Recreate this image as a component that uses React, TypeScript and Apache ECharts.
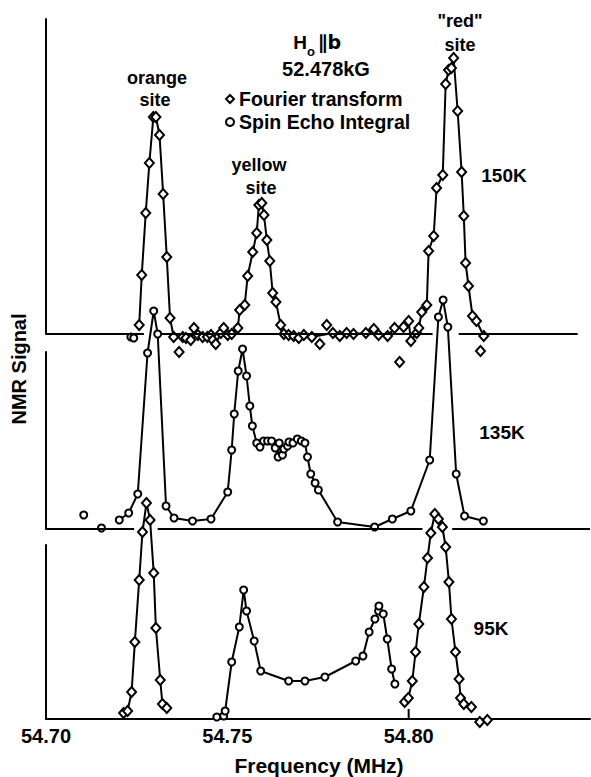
import React, { useEffect, useRef } from "react";
import * as echarts from "echarts";

// ---------- data (frequency in MHz, signal in arbitrary units above each baseline) ----------
const X_MIN = 54.7;
const X_MAX = 54.85;
const X_INTERVAL = 0.05;
const TICK_MARK: [number, number][] = [[54.8, 0], [54.8, 10]];

// 150 K — Fourier transform (connected)
const FT_150K: [number, number][] = [
  [54.7257, 9], [54.7264, 59], [54.7275, 121], [54.7285, 171], [54.7296, 217], [54.7303, 217],
  [54.7313, 199], [54.7323, 140], [54.7333, 77], [54.7342, 16], [54.7352, -3], [54.7377, -3],
  [54.7386, -4], [54.7399, -6], [54.7408, 6], [54.7419, -1], [54.7432, -3], [54.7445, -3],
  [54.7455, -1], [54.746, -6], [54.7468, -10], [54.7482, 1], [54.749, 6], [54.7501, -1],
  [54.7512, 0], [54.7529, 6], [54.7534, 24], [54.7548, 29], [54.7556, 58], [54.757, 82],
  [54.7581, 101], [54.7587, 129], [54.7595, 131], [54.7601, 119], [54.7609, 94], [54.7617, 73],
  [54.7625, 41], [54.7634, 32], [54.7647, 9], [54.7656, 0], [54.7669, -1], [54.7683, -2],
  [54.7697, -4], [54.7711, -1], [54.7733, -3], [54.7791, 1], [54.781, -2], [54.7829, 1],
  [54.7848, 0], [54.7882, 1], [54.7904, 5], [54.7917, -1], [54.7942, -2], [54.7961, 6],
  [54.7986, 7], [54.8, 13], [54.8006, -7], [54.8022, 1], [54.8028, 6], [54.8036, 22],
  [54.805, 29], [54.8055, 83], [54.8069, 98], [54.8077, 146], [54.8094, 159], [54.8102, 250],
  [54.811, 264], [54.8118, 266], [54.8124, 276], [54.8135, 223], [54.8146, 162], [54.8152, 118],
  [54.8157, 71], [54.8165, 48], [54.8176, 18], [54.8187, 13], [54.8207, -2],
];
const FT_150K_STRAY: [number, number][] = [
  [54.7367, -18], [54.7755, -10], [54.7774, 9], [54.7975, -28], [54.8198, -17],
];
const SE_150K_STRAY: [number, number][] = [
  [54.7234, -3], [54.7242, -4],
];

// 135 K — Spin echo integral
const SE_135K: [number, number][] = [
  [54.7202, 9], [54.7228, 16], [54.7253, 35], [54.728, 176], [54.7297, 218], [54.7308, 195],
  [54.7331, 23], [54.7353, 11], [54.7404, 8], [54.7455, 10], [54.7501, 37], [54.7512, 79],
  [54.7519, 115], [54.753, 158], [54.7542, 180], [54.7553, 153], [54.7562, 123], [54.7569, 103],
  [54.7581, 86], [54.759, 82], [54.76, 88], [54.7611, 88], [54.7622, 88], [54.7632, 81],
  [54.764, 72], [54.7643, 86], [54.7652, 74], [54.7656, 80], [54.7666, 83], [54.767, 87],
  [54.7681, 86], [54.7693, 90], [54.7704, 88], [54.7714, 86], [54.7721, 72], [54.773, 55],
  [54.7742, 46], [54.7751, 39], [54.7804, 7], [54.7906, 2], [54.7955, 10], [54.8006, 18],
  [54.8058, 69], [54.8082, 212], [54.8095, 229], [54.8108, 202], [54.8131, 55], [54.8154, 13],
  [54.8206, 8],
];
const SE_135K_STRAY: [number, number][] = [
  [54.7104, 14], [54.7153, 1],
];

// 95 K
const FT_95K_ORANGE: [number, number][] = [
  [54.7214, 6], [54.7225, 8], [54.7236, 27], [54.7245, 77], [54.7257, 139], [54.7266, 187],
  [54.7277, 216], [54.7287, 199], [54.7297, 146], [54.7303, 91], [54.7315, 39], [54.7321, 15],
  [54.7333, 11],
];
const SE_95K_YELLOW: [number, number][] = [
  [54.7471, 2], [54.749, 3], [54.7494, 8], [54.7512, 57], [54.7533, 92], [54.7545, 129],
  [54.7553, 108], [54.7574, 78], [54.7592, 48], [54.7669, 38], [54.7714, 38], [54.7769, 42],
  [54.7854, 58], [54.7874, 63], [54.7891, 87], [54.7907, 100], [54.7917, 108], [54.7918, 113],
  [54.793, 105], [54.7941, 80], [54.7953, 50], [54.7962, 35],
];
const FT_95K_RED: [number, number][] = [
  [54.7989, 17], [54.7999, 21], [54.801, 38], [54.8019, 67], [54.8028, 95], [54.8042, 132],
  [54.8052, 161], [54.8061, 186], [54.8072, 205], [54.8082, 200], [54.8093, 192], [54.8102, 172],
  [54.8111, 137], [54.8118, 100], [54.8129, 67], [54.8139, 40], [54.8143, 21], [54.8152, 15],
  [54.8173, 12],
];
const FT_95K_STRAY: [number, number][] = [
  [54.8196, -3], [54.8217, -1],
];

// baseline segments (drawn with gaps where the lower trace crosses)
const BASE_150K: [number, number][] = [[54.7, 54.727], [54.7317, 54.8066], [54.8138, 54.8466]];
const BASE_135K: [number, number][] = [[54.7, 54.7243], [54.7308, 54.8038], [54.812, 54.85]];

const FT_NAME = "Fourier transform";
const SE_NAME = "Spin Echo Integral";

// ---------- layout ----------
const FONT = '"Liberation Sans", Arial, sans-serif';
const GRIDS = [
  { top: 19, height: 315 },
  { top: 352, height: 177 },
  { top: 545, height: 174 },
];

const itemStyle = { color: "#fff", borderColor: "#000", borderWidth: 2, opacity: 1 };

function mk(
  type: "line" | "scatter",
  name: string,
  data: [number, number][],
  gi: number,
  symbol: "diamond" | "circle",
  extra: any = {}
) {
  return {
    type,
    name,
    data,
    xAxisIndex: gi,
    yAxisIndex: gi,
    symbol,
    symbolSize: symbol === "diamond" ? [9, 10] : 7,
    showSymbol: true,
    showAllSymbol: true,
    clip: false,
    silent: true,
    lineStyle: { color: "#000", width: 2 },
    itemStyle,
    emphasis: { disabled: true },
    z: 3,
    ...extra,
  };
}

function baseLine(segs: [number, number][]) {
  return {
    silent: true,
    symbol: ["none", "none"],
    label: { show: false },
    lineStyle: { color: "#000", width: 2, type: "solid" },
    emphasis: { disabled: true },
    data: segs.map(([a, b]) => [{ coord: [a, 0] }, { coord: [b, 0] }]),
  };
}

function txt(x: number, y: number, text: string, size = 18, extra: any = {}) {
  return {
    type: "text",
    x,
    y,
    silent: true,
    style: {
      text,
      fontFamily: FONT,
      fontWeight: "bold",
      fontSize: size,
      fill: "#000",
      align: "center",
      verticalAlign: "middle",
      ...extra,
    },
  };
}

export default function App() {
  const ref = useRef<HTMLDivElement>(null);

  useEffect(() => {
    if (!ref.current) return;
    const chart = echarts.init(ref.current, undefined, { renderer: "svg" });

    const option: any = {
      animation: false,
      backgroundColor: "#fff",
      grid: GRIDS.map((g) => ({ left: 46, right: 1, top: g.top, height: g.height })),
      xAxis: GRIDS.map((_, i) => ({
        type: "value",
        gridIndex: i,
        min: X_MIN,
        max: X_MAX,
        interval: X_INTERVAL,
        show: i === 2,
        axisLine: { show: i === 2, onZero: false, lineStyle: { color: "#000", width: 2 } },
        axisTick: { show: false },
        splitLine: { show: false },
        axisLabel: {
          show: i === 2,
          showMaxLabel: false,
          formatter: (v: number) => v.toFixed(2),
          fontFamily: FONT,
          fontWeight: "bold",
          fontSize: 20,
          color: "#000",
          margin: 7,
        },
      })),
      yAxis: GRIDS.map((g, i) => ({
        type: "value",
        gridIndex: i,
        min: 0,
        max: g.height,
        axisLine: { show: true, onZero: false, lineStyle: { color: "#000", width: 2 } },
        axisTick: { show: false },
        axisLabel: { show: false },
        splitLine: { show: false },
      })),
      legend: {
        left: 220,
        top: 84,
        orient: "vertical",
        itemWidth: 8,
        itemHeight: 8,
        itemGap: 3,
        selectedMode: false,
        itemStyle,
        textStyle: { fontFamily: FONT, fontWeight: "bold", fontSize: 19.5, color: "#000", lineHeight: 19 },
        data: [
          { name: FT_NAME, icon: "diamond", itemStyle },
          { name: SE_NAME, icon: "circle", itemStyle },
        ],
      },
      series: [
        mk("line", FT_NAME, FT_150K, 0, "diamond", { markLine: baseLine(BASE_150K) }),
        mk("scatter", FT_NAME, FT_150K_STRAY, 0, "diamond"),
        mk("scatter", SE_NAME, SE_150K_STRAY, 0, "circle"),
        mk("line", SE_NAME, SE_135K, 1, "circle", { markLine: baseLine(BASE_135K) }),
        mk("scatter", SE_NAME, SE_135K_STRAY, 1, "circle"),
        {
          type: "line",
          name: "tick",
          data: TICK_MARK,
          xAxisIndex: 2,
          yAxisIndex: 2,
          symbol: "none",
          silent: true,
          clip: false,
          lineStyle: { color: "#000", width: 2 },
          z: 2,
        },
        mk("line", FT_NAME, FT_95K_ORANGE, 2, "diamond"),
        mk("line", SE_NAME, SE_95K_YELLOW, 2, "circle"),
        mk("line", FT_NAME, FT_95K_RED, 2, "diamond"),
        mk("scatter", FT_NAME, FT_95K_STRAY, 2, "diamond"),
      ],
      graphic: [
        txt(157, 78, "orange"),
        txt(155, 100, "site"),
        txt(259, 165, "yellow"),
        txt(261, 188, "site"),
        txt(460, 21, '"red"'),
        txt(460, 45, "site"),
        txt(504, 175, "150K", 19),
        txt(502, 432, "135K", 19),
        txt(491, 628, "95K", 19),
        txt(300, 42, "H", 19),
        txt(311, 51, "o", 13),
        txt(318, 42, "\u2225b", 19, { align: "left", fontFamily: '"DejaVu Sans", ' + FONT }),
        txt(326, 69, "52.478kG", 20),
        txt(319, 765, "Frequency (MHz)", 21),
        {
          type: "text",
          x: 19,
          y: 369,
          rotation: Math.PI / 2,
          silent: true,
          style: {
            text: "NMR Signal",
            fontFamily: FONT,
            fontWeight: "bold",
            fontSize: 20,
            fill: "#000",
            align: "center",
            verticalAlign: "middle",
          },
        },
      ],
    };

    chart.setOption(option);
    return () => chart.dispose();
  }, []);

  return (
    <div
      ref={ref}
      style={{ position: "fixed", left: 0, top: 0, width: 591, height: 777, background: "#fff" }}
    />
  );
}
